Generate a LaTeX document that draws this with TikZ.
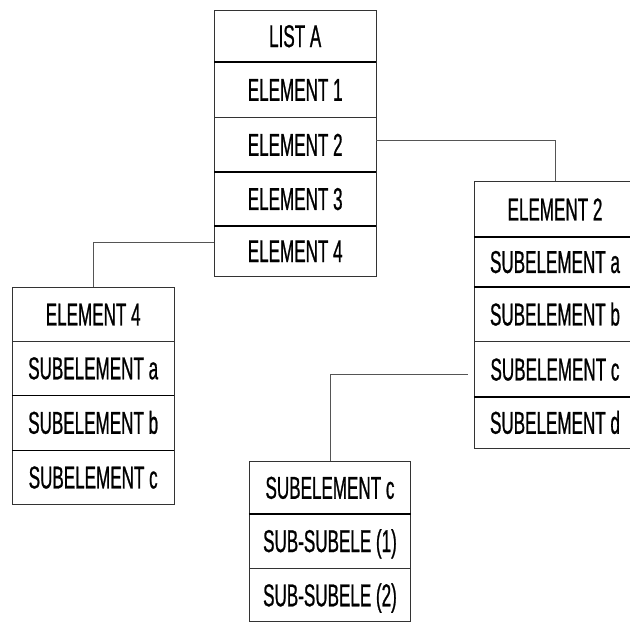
\documentclass[tikz,border=0pt]{standalone}
\usepackage{fontspec}
\newfontfamily\cellfont[FakeStretch=0.54,FakeBold=0.7]{Liberation Sans}
\usetikzlibrary{calc}

\definecolor{boxline}{HTML}{333333}
\definecolor{linkline}{HTML}{555555}

\tikzset{
  cell/.style={rectangle, draw=boxline, line width=0.9pt, inner sep=0pt,
    minimum width=161.5pt, text height=22.5pt, text depth=0pt,
    font=\cellfont\fontsize{31.6}{31.6}\selectfont},
  divider/.style={draw=black, line width=1.7pt},
  link/.style={draw=linkline, line width=1pt}
}

\begin{document}
\begin{tikzpicture}[x=1pt,y=-1pt]
  \fill[white] (0,0) rectangle (630,624);
  \useasboundingbox (0,0) rectangle (630,624);
  \clip (0,0) rectangle (630,624);

  % main list
  \node[cell, minimum height=51.7pt] (la0) at (295.2,35.85) {LIST A};
  \node[cell, minimum height=55.6pt] (la1) at (295.2,89.5)  {ELEMENT 1};
  \node[cell, minimum height=54.4pt] (la2) at (295.2,144.5) {ELEMENT 2};
  \node[cell, minimum height=54pt]   (la3) at (295.2,198.7) {ELEMENT 3};
  \node[cell, minimum height=50.3pt] (la4) at (295.2,250.85) {ELEMENT 4};

  % sub-list of element 4
  \node[cell, minimum height=53.7pt] (ea0) at (93.2,314.15) {ELEMENT 4};
  \node[cell, minimum height=54pt]   (ea1) at (93.2,368)    {SUBELEMENT a};
  \node[cell, minimum height=55pt]   (ea2) at (93.2,422.5)  {SUBELEMENT b};
  \node[cell, minimum height=54.3pt] (ea3) at (93.2,477.15) {SUBELEMENT c};

  % sub-list of element 2
  \node[cell, minimum height=55pt]   (eb0) at (555,209.2) {ELEMENT 2};
  \node[cell, minimum height=50pt]   (eb1) at (555,261.7) {SUBELEMENT a};
  \node[cell, minimum height=55pt]   (eb2) at (555,314.2) {SUBELEMENT b};
  \node[cell, minimum height=55pt]   (eb3) at (555,369.2) {SUBELEMENT c};
  \node[cell, minimum height=51.6pt] (eb4) at (555,422.5) {SUBELEMENT d};

  % sub-sub-list of subelement c
  \node[cell, minimum height=51.6pt] (sc0) at (330,487.5) {SUBELEMENT c};
  \node[cell, minimum height=55pt]   (sc1) at (330,540.8) {SUB-SUBELE (1)};
  \node[cell, minimum height=53.4pt] (sc2) at (330,595)   {SUB-SUBELE (2)};

  % heavier row separators
  \foreach \r in {la0,la2,la3,ea1,ea2,eb0,eb1,eb3,sc0}
    \draw[divider] (\r.south west) -- (\r.south east);

  % connectors
  \draw[link] ($(la2.east)+(0,-4.5)$) -| (eb0.north);
  \draw[link] ($(la4.west)+(0,-8)$) -| (ea0.north);
  \coordinate (cstart) at ($(eb3.west)+(-6,4.8)$);
  \draw[link] (cstart) -| (sc0.north);
\end{tikzpicture}
\end{document}
